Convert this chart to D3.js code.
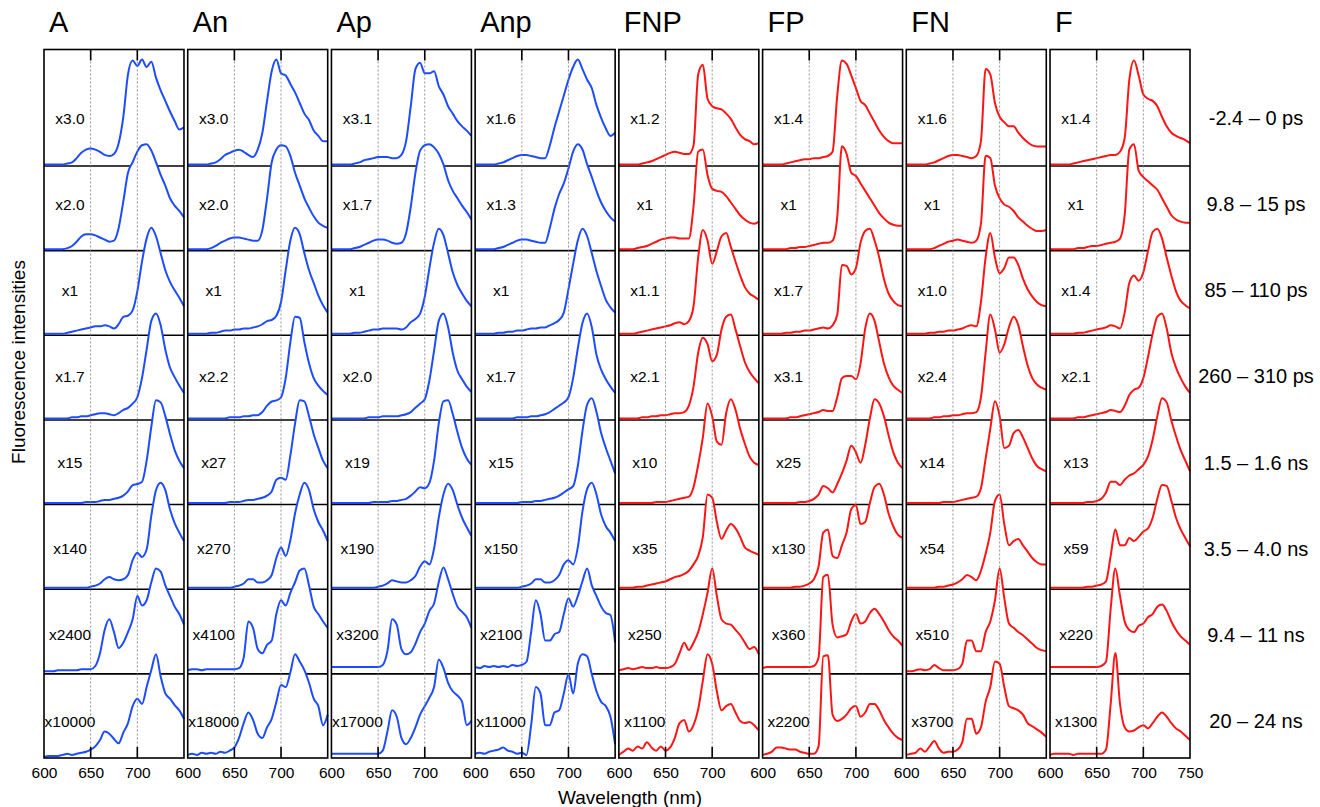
<!DOCTYPE html>
<html>
<head>
<meta charset="utf-8">
<script src="https://cdn.jsdelivr.net/npm/d3@7"></script>
<style>
  html, body { margin: 0; padding: 0; background: #fff; }
  svg { display: block; font-family: "Liberation Sans", Arial, sans-serif; }
</style>
</head>
<body>
<script>
(function () {
  'use strict';

  var wavelengths = [600, 605, 610, 615, 620, 625, 630, 635, 640, 645, 650, 655, 660, 665, 670, 675,
    680, 685, 690, 695, 700, 705, 710, 715, 720, 725, 730, 735, 740, 745, 750];

  var samples = ['A', 'An', 'Ap', 'Anp', 'FNP', 'FP', 'FN', 'F'];

  var timeWindows = ['-2.4 \u2013 0 ps', '9.8 \u2013 15 ps', '85 \u2013 110 ps', '260 \u2013 310 ps',
    '1.5 \u2013 1.6 ns', '3.5 \u2013 4.0 ns', '9.4 \u2013 11 ns', '20 \u2013 24 ns'];

  var xTicks = [600, 650, 700];
  var xTicksLast = [600, 650, 700, 750];

  // scaling factors, one list per sample, rows top to bottom
  var factorsA = ['x3.0', 'x2.0', 'x1', 'x1.7', 'x15', 'x140', 'x2400', 'x10000'];
  var factorsAn = ['x3.0', 'x2.0', 'x1', 'x2.2', 'x27', 'x270', 'x4100', 'x18000'];
  var factorsAp = ['x3.1', 'x1.7', 'x1', 'x2.0', 'x19', 'x190', 'x3200', 'x17000'];
  var factorsAnp = ['x1.6', 'x1.3', 'x1', 'x1.7', 'x15', 'x150', 'x2100', 'x11000'];
  var factorsFNP = ['x1.2', 'x1', 'x1.1', 'x2.1', 'x10', 'x35', 'x250', 'x1100'];
  var factorsFP = ['x1.4', 'x1', 'x1.7', 'x3.1', 'x25', 'x130', 'x360', 'x2200'];
  var factorsFN = ['x1.6', 'x1', 'x1.0', 'x2.4', 'x14', 'x54', 'x510', 'x3700'];
  var factorsF = ['x1.4', 'x1', 'x1.4', 'x2.1', 'x13', 'x59', 'x220', 'x1300'];

  // normalised intensities (%) at each wavelength, rows top to bottom
  var spectraA = [
    [0, 0, 0, 0, 0, 1, 2, 6, 11, 14, 15, 14, 12, 9, 8, 10, 20, 45, 85, 98, 93, 99, 92, 97, 82, 70, 60, 50, 41, 33, 35],
    [0, 0, 0, 0, 0, 1, 3, 7, 12, 14, 14, 13, 11, 9, 7, 8, 20, 45, 72, 82, 92, 98, 99, 93, 82, 70, 60, 48, 41, 36, 30],
    [0, 0, 0, 0, 0, 1, 2, 3, 4, 5, 6, 7, 7, 8, 7, 5, 9, 16, 17, 22, 40, 68, 90, 100, 92, 76, 60, 49, 41, 34, 26],
    [0, 0, 0, 0, 0, 0, 1, 1, 2, 2, 3, 4, 5, 5, 4, 3, 5, 8, 10, 14, 20, 38, 65, 92, 99, 88, 65, 48, 39, 31, 24],
    [0, 0, 0, 0, 0, 0, 0, 0, 0, 1, 1, 1, 2, 3, 3, 4, 5, 7, 11, 17, 18, 20, 40, 72, 97, 95, 82, 65, 50, 40, 33],
    [0, 0, 0, 0, 0, 0, 0, 0, 0, 0, 1, 2, 4, 8, 10, 8, 7, 8, 12, 26, 33, 29, 36, 68, 92, 99, 92, 74, 61, 52, 44],
    [1, 1, 1, 2, 2, 2, 2, 2, 3, 3, 3, 6, 18, 40, 50, 38, 23, 28, 38, 50, 72, 63, 68, 85, 98, 95, 82, 72, 62, 55, 45],
    [0, 1, 1, 1, 2, 3, 2, 3, 4, 5, 7, 10, 16, 24, 22, 17, 13, 23, 32, 48, 55, 50, 66, 82, 97, 76, 60, 55, 49, 44, 36]
  ];
  var spectraAn = [
    [0, 0, 0, 0, 0, 1, 2, 5, 9, 11, 13, 14, 12, 9, 7, 14, 30, 60, 88, 99, 86, 84, 76, 68, 58, 48, 42, 32, 27, 22, 22],
    [0, 0, 0, 0, 0, 1, 3, 6, 8, 10, 11, 11, 10, 9, 8, 8, 18, 48, 82, 94, 98, 97, 88, 72, 60, 48, 39, 31, 25, 22, 20],
    [0, 0, 0, 0, 0, 1, 1, 2, 3, 3, 4, 4, 5, 5, 6, 7, 9, 12, 13, 17, 30, 60, 88, 100, 94, 76, 60, 48, 36, 27, 20],
    [0, 0, 0, 0, 0, 0, 0, 0, 0, 1, 1, 1, 2, 2, 3, 3, 6, 12, 16, 17, 20, 38, 72, 96, 95, 72, 52, 38, 31, 26, 22],
    [0, 0, 0, 0, 0, 0, 0, 0, 0, 1, 1, 1, 2, 3, 3, 4, 5, 7, 11, 22, 24, 22, 45, 75, 97, 96, 82, 65, 52, 40, 33],
    [0, 0, 0, 0, 0, 0, 0, 0, 0, 0, 1, 2, 4, 8, 8, 5, 5, 7, 12, 28, 38, 30, 45, 70, 88, 99, 92, 74, 62, 54, 44],
    [2, 3, 3, 2, 3, 3, 3, 3, 3, 3, 3, 4, 14, 48, 42, 22, 18, 26, 30, 55, 68, 63, 75, 85, 96, 98, 82, 62, 55, 48, 42],
    [2, 3, 2, 4, 3, 4, 3, 5, 4, 6, 9, 18, 32, 42, 35, 22, 18, 28, 36, 52, 68, 66, 80, 97, 90, 82, 70, 55, 48, 30, 40]
  ];
  var spectraAp = [
    [0, 0, 0, 0, 0, 1, 2, 4, 5, 6, 7, 7, 7, 6, 6, 9, 22, 55, 90, 96, 86, 86, 88, 74, 66, 55, 48, 41, 36, 32, 27],
    [0, 0, 0, 0, 0, 1, 2, 4, 6, 8, 9, 9, 8, 6, 5, 6, 15, 40, 72, 93, 98, 99, 96, 90, 80, 65, 55, 48, 41, 35, 28],
    [0, 0, 0, 0, 0, 1, 1, 2, 3, 4, 4, 5, 5, 5, 5, 4, 6, 11, 14, 19, 35, 62, 86, 99, 93, 76, 58, 46, 38, 31, 26],
    [0, 0, 0, 0, 0, 0, 0, 0, 1, 1, 1, 2, 2, 2, 2, 3, 4, 6, 10, 14, 18, 36, 64, 92, 99, 86, 62, 45, 37, 30, 25],
    [0, 0, 0, 0, 0, 0, 0, 0, 0, 1, 1, 1, 1, 2, 2, 3, 4, 7, 11, 15, 14, 19, 40, 75, 96, 97, 84, 67, 52, 42, 36],
    [0, 0, 0, 0, 0, 0, 0, 0, 0, 0, 1, 2, 4, 7, 6, 5, 5, 7, 11, 20, 25, 22, 37, 66, 88, 98, 92, 78, 66, 57, 49],
    [5, 5, 5, 5, 5, 5, 5, 5, 5, 5, 5, 7, 20, 50, 45, 22, 17, 19, 27, 38, 46, 58, 65, 85, 99, 88, 74, 62, 57, 52, 42],
    [3, 3, 3, 3, 3, 3, 3, 3, 3, 3, 3, 6, 24, 44, 38, 18, 12, 18, 28, 40, 48, 56, 66, 92, 84, 70, 62, 58, 52, 30, 34]
  ];
  var spectraAnp = [
    [0, 0, 0, 0, 0, 1, 2, 4, 6, 8, 9, 9, 8, 7, 6, 6, 18, 35, 50, 65, 80, 92, 99, 90, 80, 72, 56, 44, 34, 27, 30],
    [0, 0, 0, 0, 0, 1, 2, 4, 6, 8, 9, 9, 8, 7, 6, 6, 20, 38, 52, 62, 76, 92, 99, 94, 80, 68, 55, 44, 36, 30, 26],
    [0, 0, 0, 0, 0, 1, 1, 2, 2, 3, 3, 4, 5, 5, 6, 6, 8, 10, 13, 20, 42, 66, 88, 99, 92, 76, 59, 45, 32, 25, 20],
    [0, 0, 0, 0, 0, 0, 0, 0, 0, 1, 1, 1, 2, 2, 3, 4, 6, 9, 12, 15, 20, 38, 66, 90, 99, 86, 60, 46, 37, 30, 24],
    [0, 0, 0, 0, 0, 0, 0, 0, 0, 0, 1, 1, 1, 2, 2, 3, 4, 5, 7, 10, 13, 16, 35, 68, 93, 99, 86, 66, 52, 40, 28],
    [0, 0, 0, 0, 0, 0, 0, 0, 0, 0, 1, 2, 4, 8, 8, 5, 5, 7, 12, 22, 26, 22, 38, 72, 93, 99, 88, 69, 58, 52, 44],
    [5, 4, 6, 5, 6, 5, 6, 5, 7, 6, 7, 10, 38, 68, 55, 30, 30, 36, 38, 55, 70, 62, 72, 86, 98, 82, 72, 62, 56, 54, 28],
    [3, 4, 3, 5, 6, 7, 9, 6, 5, 3, 4, 2, 30, 66, 60, 30, 30, 42, 44, 60, 78, 60, 88, 97, 95, 78, 62, 52, 48, 38, 12]
  ];
  var spectraFNP = [
    [0, 0, 0, 0, 0, 1, 2, 3, 5, 7, 9, 11, 12, 11, 10, 10, 18, 85, 94, 62, 55, 53, 52, 48, 43, 35, 28, 24, 22, 19, 20],
    [0, 0, 0, 0, 1, 2, 3, 5, 7, 9, 10, 11, 11, 10, 10, 10, 40, 92, 94, 70, 57, 55, 54, 50, 44, 38, 32, 28, 25, 24, 26],
    [0, 0, 0, 0, 1, 2, 3, 4, 5, 6, 7, 8, 10, 11, 9, 12, 26, 72, 98, 88, 66, 78, 92, 95, 82, 68, 55, 44, 38, 35, 32],
    [0, 0, 0, 0, 0, 1, 1, 2, 2, 3, 3, 4, 5, 5, 6, 12, 30, 62, 76, 70, 54, 60, 84, 96, 98, 84, 68, 53, 44, 38, 33],
    [0, 0, 0, 0, 0, 0, 0, 0, 1, 1, 1, 2, 3, 4, 5, 6, 15, 36, 62, 94, 82, 58, 55, 85, 98, 88, 70, 56, 44, 38, 36],
    [0, 0, 0, 0, 1, 1, 2, 3, 4, 5, 6, 8, 10, 11, 13, 16, 22, 30, 48, 88, 85, 62, 46, 54, 60, 56, 48, 38, 35, 33, 31],
    [2, 3, 4, 3, 4, 5, 4, 4, 5, 4, 4, 5, 8, 18, 28, 21, 28, 38, 55, 75, 98, 72, 50, 46, 45, 40, 35, 28, 22, 24, 17],
    [2, 5, 8, 6, 10, 8, 14, 9, 6, 10, 6, 9, 18, 32, 35, 24, 30, 45, 72, 97, 88, 62, 44, 48, 50, 42, 34, 32, 33, 30, 25]
  ];
  var spectraFP = [
    [0, 0, 0, 0, 0, 1, 2, 3, 4, 5, 5, 6, 6, 7, 8, 12, 65, 98, 95, 84, 72, 60, 56, 48, 40, 32, 26, 22, 20, 20, 20],
    [0, 0, 0, 0, 0, 0, 1, 1, 2, 2, 3, 4, 5, 6, 6, 8, 30, 97, 90, 72, 69, 62, 55, 48, 41, 34, 29, 25, 23, 22, 22],
    [0, 0, 0, 0, 0, 1, 1, 2, 2, 3, 3, 4, 5, 6, 5, 8, 18, 65, 64, 56, 62, 86, 97, 99, 88, 72, 52, 38, 31, 27, 26],
    [0, 0, 0, 0, 0, 0, 1, 1, 2, 3, 4, 5, 6, 8, 7, 7, 20, 38, 40, 40, 37, 52, 85, 99, 92, 72, 52, 39, 31, 27, 24],
    [0, 0, 0, 0, 0, 0, 0, 0, 1, 1, 2, 4, 8, 16, 14, 10, 18, 28, 40, 54, 48, 38, 55, 80, 98, 94, 82, 64, 48, 38, 33],
    [0, 0, 0, 0, 0, 0, 0, 1, 1, 2, 4, 8, 20, 52, 55, 30, 28, 40, 52, 74, 78, 60, 62, 80, 95, 98, 88, 70, 58, 50, 47],
    [4, 5, 5, 5, 5, 5, 5, 5, 5, 5, 5, 6, 14, 90, 92, 45, 33, 34, 36, 48, 55, 46, 48, 56, 60, 55, 48, 40, 34, 30, 25],
    [2, 3, 5, 9, 9, 8, 7, 7, 5, 4, 3, 3, 10, 95, 96, 40, 34, 36, 40, 46, 48, 38, 42, 50, 50, 44, 35, 28, 22, 18, 16]
  ];
  var spectraFN = [
    [0, 0, 0, 0, 0, 1, 2, 4, 6, 8, 9, 9, 8, 7, 6, 8, 22, 90, 85, 58, 45, 40, 36, 36, 30, 25, 21, 18, 17, 17, 17],
    [0, 0, 0, 0, 0, 0, 1, 3, 5, 7, 8, 9, 8, 7, 6, 8, 24, 88, 86, 60, 48, 42, 40, 36, 30, 26, 22, 19, 17, 17, 18],
    [0, 0, 0, 0, 0, 1, 1, 2, 2, 3, 3, 4, 5, 7, 8, 7, 30, 72, 95, 72, 57, 62, 72, 72, 65, 52, 42, 35, 30, 27, 26],
    [0, 0, 0, 0, 0, 0, 1, 1, 2, 2, 3, 3, 4, 5, 5, 6, 20, 62, 98, 84, 62, 70, 86, 96, 88, 68, 50, 38, 32, 29, 27],
    [0, 0, 0, 0, 0, 0, 0, 0, 1, 1, 1, 2, 3, 4, 5, 6, 14, 42, 70, 96, 82, 52, 54, 66, 69, 62, 52, 42, 35, 32, 30],
    [0, 0, 0, 0, 0, 0, 0, 1, 1, 2, 3, 5, 8, 12, 10, 7, 16, 32, 52, 82, 88, 60, 40, 44, 46, 40, 34, 28, 24, 22, 22],
    [1, 1, 2, 3, 2, 3, 7, 4, 2, 2, 2, 3, 8, 30, 30, 20, 20, 38, 48, 68, 98, 70, 46, 42, 38, 35, 31, 27, 23, 21, 20],
    [2, 3, 4, 8, 5, 10, 15, 8, 4, 5, 5, 7, 14, 36, 36, 22, 28, 52, 66, 90, 88, 66, 48, 46, 44, 40, 32, 29, 26, 23, 19]
  ];
  var spectraF = [
    [0, 0, 0, 0, 0, 1, 2, 3, 4, 5, 6, 7, 8, 9, 9, 12, 25, 80, 98, 84, 66, 62, 60, 55, 45, 36, 30, 27, 25, 23, 20],
    [0, 0, 0, 0, 0, 0, 1, 1, 2, 3, 3, 4, 5, 6, 7, 10, 32, 94, 99, 74, 68, 64, 60, 56, 48, 40, 32, 28, 26, 25, 25],
    [0, 0, 0, 0, 0, 0, 1, 1, 2, 3, 4, 5, 6, 8, 7, 5, 20, 48, 55, 50, 58, 78, 96, 99, 90, 72, 55, 40, 31, 27, 24],
    [0, 0, 0, 0, 0, 0, 1, 1, 2, 3, 4, 5, 6, 8, 7, 6, 12, 22, 27, 29, 38, 58, 80, 96, 99, 85, 62, 48, 38, 30, 24],
    [0, 0, 0, 0, 0, 0, 0, 0, 1, 1, 2, 4, 10, 20, 20, 17, 22, 26, 28, 32, 36, 44, 60, 82, 99, 95, 78, 63, 50, 40, 30],
    [0, 0, 0, 0, 0, 0, 0, 0, 1, 1, 2, 3, 6, 30, 55, 40, 40, 47, 44, 48, 53, 56, 66, 84, 97, 96, 82, 66, 55, 47, 39],
    [5, 5, 5, 5, 5, 5, 5, 5, 5, 5, 5, 6, 10, 60, 98, 72, 48, 40, 38, 44, 46, 52, 55, 62, 64, 58, 48, 40, 34, 30, 26],
    [2, 3, 3, 3, 3, 2, 3, 3, 3, 3, 3, 3, 7, 50, 98, 50, 28, 24, 25, 28, 30, 27, 32, 38, 42, 38, 32, 27, 24, 20, 16]
  ];

  var spectra = [spectraA, spectraAn, spectraAp, spectraAnp, spectraFNP, spectraFP, spectraFN, spectraF];
  var factors = [factorsA, factorsAn, factorsAp, factorsAnp, factorsFNP, factorsFP, factorsFN, factorsF];

  var W = 1320,
    H = 807,
    top = 49.5,
    bottom = 758,
    peakHeight = 106;

  var svgEl,
    colScale,
    rowScale,
    labelScale,
    xScale;

  init();

  function init() {
    svgEl = d3.select('body')
      .append('svg')
      .attr('width', W)
      .attr('height', H);

    colScale = d3.scaleBand()
      .domain(samples)
      .range([44, 1190])
      .paddingInner(0.026)
      .paddingOuter(0);

    // spectrum baselines
    rowScale = d3.scaleLinear()
      .domain([0, timeWindows.length - 1])
      .range([164.5, 757]);

    // vertical centre of the row labels
    labelScale = d3.scaleLinear()
      .domain([0, timeWindows.length - 1])
      .range([118, 721]);

    xScale = d3.scaleLinear()
      .domain([600, 750])
      .range([0, colScale.bandwidth()]);

    samples.forEach(function (name, i) {
      drawColumn(name, i);
    });

    // time windows on the right
    svgEl.append('g')
      .selectAll('text')
      .data(timeWindows)
      .enter()
      .append('text')
      .attr('x', 1256)
      .attr('y', function (d, i) {
        return labelScale(i);
      })
      .attr('text-anchor', 'middle')
      .attr('dominant-baseline', 'central')
      .attr('font-size', 20)
      .text(function (d) {
        return d;
      });

    svgEl.append('text')
      .attr('transform', 'translate(18,' + 362 + ') rotate(-90)')
      .attr('text-anchor', 'middle')
      .attr('dominant-baseline', 'central')
      .attr('font-size', 19)
      .text('Fluorescence intensities');

    svgEl.append('text')
      .attr('x', 630)
      .attr('y', 797)
      .attr('text-anchor', 'middle')
      .attr('dominant-baseline', 'central')
      .attr('font-size', 19)
      .text('Wavelength (nm)');
  }

  function drawColumn(name, i) {
    var left = colScale(name),
      w = colScale.bandwidth(),
      color = i < 4 ? '#1d4cff' : '#ff1414',
      g = svgEl.append('g').attr('transform', 'translate(' + left + ',0)'),
      rows = spectra[i];

    g.append('text')
      .attr('x', 5)
      .attr('y', 32)
      .attr('font-size', 29)
      .text(name);

    // row dividers
    g.append('g')
      .selectAll('line')
      .data(d3.range(rows.length - 1))
      .enter()
      .append('line')
      .attr('x1', 0)
      .attr('x2', w)
      .attr('y1', function (r) {
        return rowScale(r) + 1.5;
      })
      .attr('y2', function (r) {
        return rowScale(r) + 1.5;
      })
      .attr('stroke', '#000')
      .attr('stroke-width', 1.6);

    rows.forEach(function (vals, r) {
      var base = rowScale(r),
        pts = vals.map(function (v, k) {
          return [wavelengths[k], v];
        }),
        area = d3.area()
          .x(function (d) { return xScale(d[0]); })
          .y0(base)
          .y1(function (d) { return base - d[1] / 100 * peakHeight; })
          .curve(d3.curveMonotoneX),
        line = d3.line()
          .x(function (d) { return xScale(d[0]); })
          .y(function (d) { return base - d[1] / 100 * peakHeight; })
          .curve(d3.curveMonotoneX);

      g.append('path')
        .attr('d', area(pts))
        .attr('fill', '#fff');

      g.append('path')
        .attr('d', line(pts))
        .attr('fill', 'none')
        .attr('stroke', color)
        .attr('stroke-width', 2)
        .attr('stroke-linejoin', 'round');

      g.append('text')
        .attr('x', 26)
        .attr('y', labelScale(r))
        .attr('text-anchor', 'middle')
        .attr('dominant-baseline', 'central')
        .attr('font-size', 15.5)
        .text(factors[i][r]);
    });

    // dotted guides at 650 and 700 nm
    g.append('g')
      .selectAll('line')
      .data([650, 700])
      .enter()
      .append('line')
      .attr('x1', function (d) { return xScale(d); })
      .attr('x2', function (d) { return xScale(d); })
      .attr('y1', top)
      .attr('y2', bottom)
      .attr('stroke', '#777')
      .attr('stroke-width', 0.8)
      .attr('stroke-dasharray', '2,2');

    // ticks top and bottom
    [650, 700].forEach(function (t) {
      g.append('line')
        .attr('x1', xScale(t)).attr('x2', xScale(t))
        .attr('y1', top).attr('y2', top + 11)
        .attr('stroke', '#000').attr('stroke-width', 1.6);
      g.append('line')
        .attr('x1', xScale(t)).attr('x2', xScale(t))
        .attr('y1', bottom - 11).attr('y2', bottom)
        .attr('stroke', '#000').attr('stroke-width', 1.6);
    });

    g.append('rect')
      .attr('x', 0)
      .attr('y', top)
      .attr('width', w)
      .attr('height', bottom - top)
      .attr('fill', 'none')
      .attr('stroke', '#000')
      .attr('stroke-width', 1.6);

    var axis = d3.axisBottom(xScale)
      .tickValues(i === samples.length - 1 ? xTicksLast : xTicks)
      .tickSize(0)
      .tickPadding(5);

    g.append('g')
      .attr('transform', 'translate(0,' + (bottom + 4) + ')')
      .call(axis)
      .call(function (sel) {
        sel.select('.domain').remove();
        sel.selectAll('text')
          .attr('font-size', 15.5)
          .attr('font-family', '"Liberation Sans", Arial, sans-serif')
          .attr('fill', '#000');
      });
  }
}());
</script>
</body>
</html>
